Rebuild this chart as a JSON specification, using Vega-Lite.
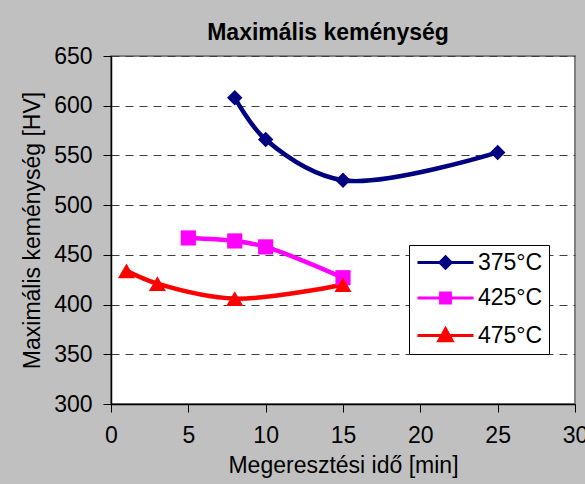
{
  "$schema": "https://vega.github.io/schema/vega-lite/v6.json",
  "width": 464,
  "height": 348,
  "autosize": {"type": "none"},
  "padding": {"left": 111, "top": 56, "right": 10, "bottom": 80},
  "background": "#c0c0c0",
  "title": {
    "text": "Maximális keménység",
    "font": "Liberation Sans",
    "fontSize": 23,
    "fontWeight": "bold",
    "color": "#000000",
    "frame": "group",
    "anchor": "middle",
    "dx": -15,
    "offset": 0
  },
  "config": {
    "view": {"fill": "white", "stroke": "#808080", "strokeWidth": 2},
    "font": "Liberation Sans"
  },
  "data": {
    "values": [
      {"series": "375°C", "t": 8, "hv": 608},
      {"series": "375°C", "t": 10, "hv": 566},
      {"series": "375°C", "t": 15, "hv": 525},
      {"series": "375°C", "t": 25, "hv": 553},
      {"series": "425°C", "t": 5, "hv": 467},
      {"series": "425°C", "t": 8, "hv": 464},
      {"series": "425°C", "t": 10, "hv": 458},
      {"series": "425°C", "t": 15, "hv": 427},
      {"series": "475°C", "t": 1, "hv": 434},
      {"series": "475°C", "t": 3, "hv": 421},
      {"series": "475°C", "t": 8, "hv": 406},
      {"series": "475°C", "t": 15, "hv": 420}
    ]
  },
  "encoding": {
    "x": {
      "field": "t",
      "type": "quantitative",
      "scale": {"domain": [0, 30], "nice": false, "zero": false},
      "axis": {
        "title": "Megeresztési idő [min]",
        "values": [0, 5, 10, 15, 20, 25, 30],
        "grid": false,
        "domainColor": "#000000",
        "domainWidth": 1.5,
        "tickColor": "#000000",
        "tickSize": 8,
        "labelFlush": false,
        "labelOverlap": false,
        "labelFont": "Liberation Sans",
        "labelFontSize": 23,
        "labelColor": "#000000",
        "labelPadding": 12,
        "titleFont": "Liberation Sans",
        "titleFontSize": 23,
        "titleFontWeight": "normal",
        "titleColor": "#000000",
        "titlePadding": 7
      }
    },
    "y": {
      "field": "hv",
      "type": "quantitative",
      "scale": {"domain": [300, 650], "nice": false, "zero": false},
      "axis": {
        "title": "Maximális keménység [HV]",
        "values": [300, 350, 400, 450, 500, 550, 600, 650],
        "grid": true,
        "gridColor": "#404040",
        "gridDash": [8, 6],
        "gridWidth": 1,
        "domainColor": "#000000",
        "domainWidth": 1.5,
        "tickColor": "#000000",
        "tickSize": 8,
        "labelFlush": false,
        "labelOverlap": false,
        "labelFont": "Liberation Sans",
        "labelFontSize": 23,
        "labelColor": "#000000",
        "labelPadding": 11,
        "titleFont": "Liberation Sans",
        "titleFontSize": 23,
        "titleFontWeight": "normal",
        "titleColor": "#000000",
        "titlePadding": 9
      }
    }
  },
  "layer": [
    {
      "mark": {"type": "line", "strokeWidth": 4.5, "interpolate": "catmull-rom", "strokeJoin": "round", "strokeCap": "round"},
      "encoding": {
        "color": {
          "field": "series",
          "type": "nominal",
          "scale": {"domain": ["375°C", "425°C", "475°C"], "range": ["#000080", "#FF00FF", "#FF0000"]}
        }
      }
    },
    {
      "transform": [{"filter": "datum.series === '375°C'"}],
      "mark": {"type": "point", "filled": true, "opacity": 1, "shape": "diamond", "size": 240, "color": "#000080", "strokeWidth": 1}
    },
    {
      "transform": [{"filter": "datum.series === '425°C'"}],
      "mark": {"type": "point", "filled": true, "opacity": 1, "shape": "square", "size": 230, "color": "#FF00FF", "strokeWidth": 1}
    },
    {
      "transform": [{"filter": "datum.series === '475°C'"}],
      "mark": {"type": "point", "filled": true, "opacity": 1, "shape": "triangle-up", "size": 290, "color": "#FF0000", "strokeWidth": 1}
    },
    {
      "transform": [{"filter": "false"}],
      "mark": {"type": "point", "filled": true, "opacity": 1},
      "encoding": {
        "color": {
          "field": "series",
          "type": "nominal",
          "scale": {"domain": ["375°C", "425°C", "475°C"], "range": ["#000080", "#FF00FF", "#FF0000"]},
          "legend": {
            "orient": "none",
            "legendX": 298,
            "legendY": 189,
            "title": null,
            "fillColor": "white",
            "strokeColor": "black",
            "padding": 6,
            "labelFont": "Liberation Sans",
            "labelFontSize": 23,
            "labelColor": "#000000",
            "symbolSize": 196,
            "symbolStrokeWidth": 3,
            "symbolOffset": 19,
            "labelOffset": 21,
            "rowPadding": 11.5,
            "encode": {
              "symbols": {
                "strokeWidth": {"value": 3},
                "opacity": {"value": 1}
              }
            }
          }
        },
        "shape": {
          "field": "series",
          "type": "nominal",
          "scale": {
            "domain": ["375°C", "425°C", "475°C"],
            "range": [
              "M-4,0H4M0,-0.8L0.8,0L0,0.8L-0.8,0Z",
              "M-4,0H4M-0.7,-0.7H0.7V0.7H-0.7Z",
              "M-4,0H4M0,-0.95L0.95,0.75H-0.95Z"
            ]
          }
        }
      }
    }
  ]
}
